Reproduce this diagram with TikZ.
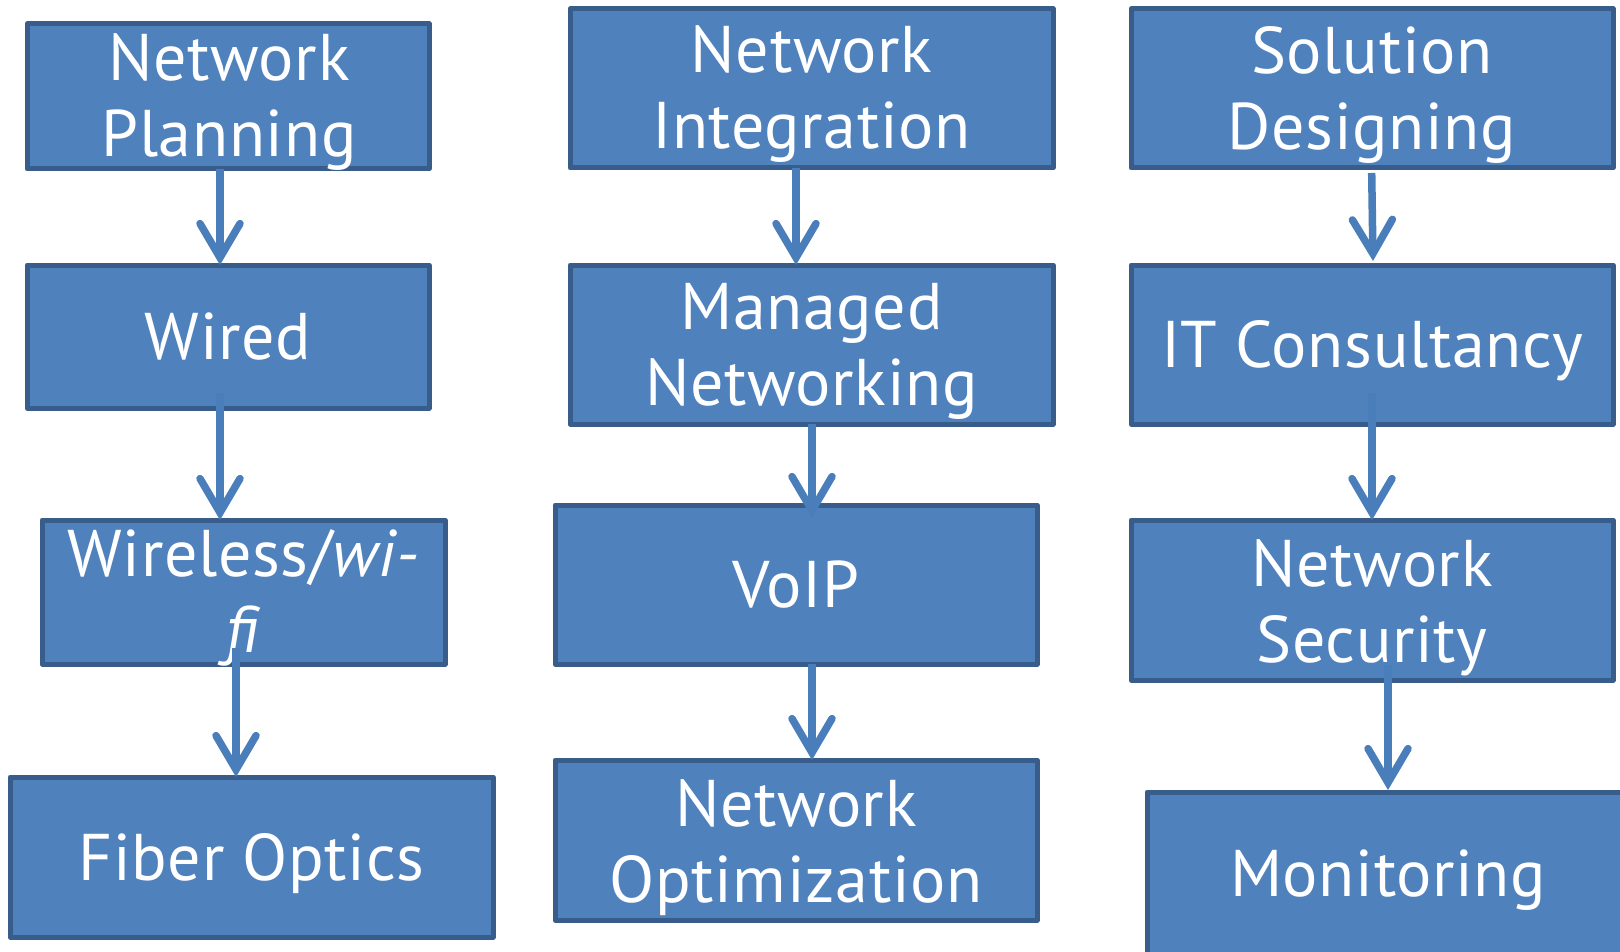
\documentclass[tikz,border=0pt]{standalone}
\usepackage{fontspec}
\setmainfont[LetterSpace=1.0]{PT Sans}
\usetikzlibrary{arrows.meta}
\definecolor{boxfill}{HTML}{4F81BD}
\definecolor{boxline}{HTML}{385D8A}
\definecolor{linkblue}{HTML}{4A7EBB}
\tikzset{
  stepbox/.style={rectangle, draw=boxline, fill=boxfill, line width=5pt,
    line join=round, inner sep=0pt, outer sep=0pt},
  % anchor=base sits on the baseline of the last line
  boxtext/.style={text=white, align=center, anchor=base, inner sep=0pt,
    font=\fontsize{66}{76}\selectfont},
  link/.style={draw=linkblue, line width=7.5pt,
    -{Straight Barb[length=34pt, width=40pt, line cap=round, line join=miter]}},
}
\begin{document}
\begin{tikzpicture}[x=1pt, y=-1pt]
\useasboundingbox (0,0) rectangle (1620,952);
\fill[white] (0,0) rectangle (1620,952);
\clip (0,0) rectangle (1620,952);

% column 1
\node[stepbox, minimum width=402pt, minimum height=145pt] (np)    at (228,96.5)  {};
\node[stepbox, minimum width=402pt, minimum height=143pt] (wired) at (228,336.5) {};
\node[stepbox, minimum width=403pt, minimum height=144pt] (wless) at (243.5,592) {};
\node[stepbox, minimum width=483pt, minimum height=160pt] (fiber) at (251.5,857) {};

% column 2
\node[stepbox, minimum width=483pt, minimum height=159pt] (ni)   at (811.5,88.5)  {};
\node[stepbox, minimum width=483pt, minimum height=159pt] (mn)   at (811.5,344.5) {};
\node[stepbox, minimum width=482pt, minimum height=159pt] (voip) at (796,584.5)   {};
\node[stepbox, minimum width=482pt, minimum height=160pt] (no)   at (796,840)     {};

% column 3
\node[stepbox, minimum width=482pt, minimum height=159pt] (sd)  at (1372,88.5)  {};
\node[stepbox, minimum width=482pt, minimum height=159pt] (it)  at (1372,344.5) {};
\node[stepbox, minimum width=482pt, minimum height=160pt] (ns)  at (1372,600)   {};
\node[stepbox, minimum width=482pt, minimum height=162pt] (mon) at (1388,873)   {};

% labels
\node[boxtext] (np-t)    at (229,157)   {Network\\Planning};
\node[boxtext] (wired-t) at (228,359)   {Wired};
\node[boxtext] (wless-t) at (243.5,652) {Wireless/\textit{wi-}\\\textit{fi}};
\node[boxtext] (fiber-t) at (251.5,880) {Fiber Optics};
\node[boxtext] (ni-t)    at (811.5,149) {Network\\Integration};
\node[boxtext] (mn-t)    at (811.5,405) {Managed\\Networking};
\node[boxtext] (voip-t)  at (796,607)   {VoIP};
\node[boxtext] (no-t)    at (796,902)   {Network\\Optimization};
\node[boxtext] (sd-t)    at (1372,150)  {Solution\\Designing};
\node[boxtext] (it-t)    at (1372,367)  {IT Consultancy};
\node[boxtext] (ns-t)    at (1372,662)  {Network\\Security};
\node[boxtext] (mon-t)   at (1388,896)  {Monitoring};

% connectors
\draw[link] ([xshift=-8pt]np.south) -- ([xshift=-8pt]wired.north);
\draw[link] ([xshift=-8pt,yshift=15pt]wired.south) -- ([xshift=-23.5pt]wless.north);
\draw[link] ([xshift=-7.5pt,yshift=16pt]wless.south) -- ([xshift=-15.5pt]fiber.north);

\draw[link] ([xshift=-15.5pt]ni.south) -- ([xshift=-15.5pt]mn.north);
\draw[link] ([xshift=0.5pt]mn.south) -- ([xshift=16pt,yshift=-13pt]voip.north);
\draw[link] ([xshift=16pt]voip.south) -- ([xshift=16pt]no.north);

\draw[link] ([xshift=-0.3pt,yshift=-5pt]sd.south) -- ([xshift=1pt,yshift=4pt]it.north);
\draw[link] ([yshift=31pt]it.south) -- (ns.north);
\draw[link] ([xshift=16pt,yshift=15pt]ns.south) -- ([yshift=2pt]mon.north);
\end{tikzpicture}
\end{document}
